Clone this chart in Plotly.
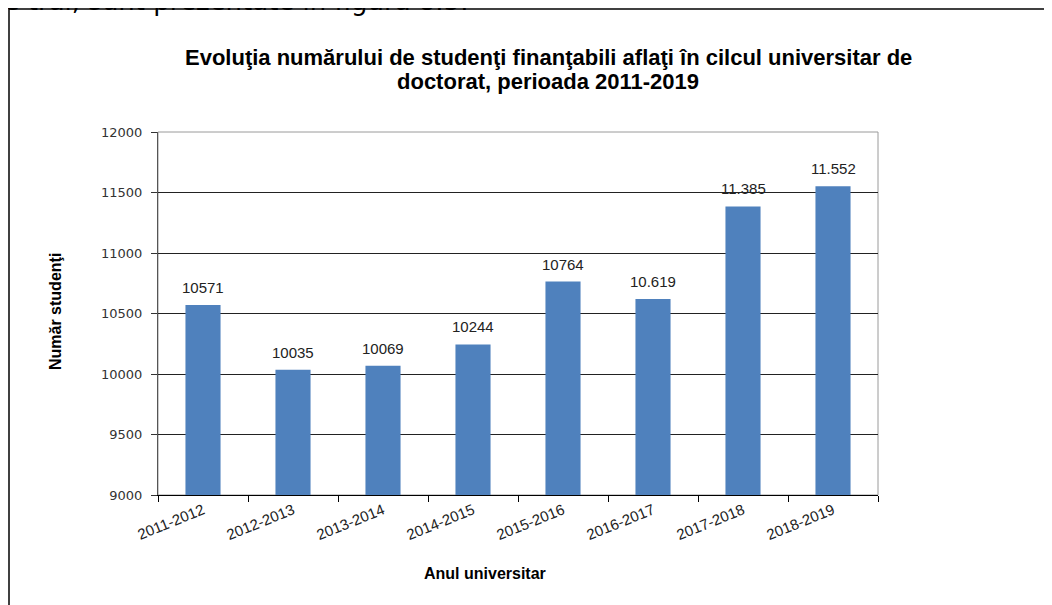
import plotly.graph_objects as go

years = ["2011-2012", "2012-2013", "2013-2014", "2014-2015",
         "2015-2016", "2016-2017", "2017-2018", "2018-2019"]
students = [10571, 10035, 10069, 10244, 10764, 10619, 11385, 11552]
value_labels = ["10571", "10035", "10069", "10244", "10764", "10.619", "11.385", "11.552"]
y_ticks = [9000, 9500, 10000, 10500, 11000, 11500, 12000]
y_tick_text = ["9000", "9500", "10000", "10500", "11000", "11500", "12000"]
title_lines = ["Evoluţia numărului de studenţi finanţabili aflaţi în cilcul universitar de",
               "doctorat, perioada 2011-2019"]

W, H = 1052, 605
OFF = 8  # page body margin
# plot area in screen pixels
SL, SR, ST, SB = 158, 878, 132, 495
L, R, T, B = SL - OFF, SR - OFF, ST - OFF, SB - OFF


def px(x):
    """screen x pixel -> paper coordinate"""
    return (x - SL) / (SR - SL)


def py(y):
    """screen y pixel -> paper coordinate"""
    return (SB - y) / (SB - ST)


fig = go.Figure()
fig.add_trace(go.Bar(
    x=years, y=students, width=0.39,
    marker=dict(color="#4F81BD", line=dict(width=0)),
    hoverinfo="x+y",
))

annotations = []
for cat, val, lab in zip(years, students, value_labels):
    annotations.append(dict(
        x=cat, y=val, xref="x", yref="y", text=lab, showarrow=False,
        yanchor="bottom", yshift=7,
        font=dict(family="Liberation Sans, Arial", size=15, color="#222222"),
    ))

for line, ypix in zip(title_lines, [57, 81]):
    annotations.append(dict(
        x=px(548), y=py(ypix), xref="paper", yref="paper", showarrow=False,
        xanchor="center", yanchor="middle", text="<b>" + line + "</b>",
        font=dict(family="Liberation Sans, Arial", size=22, color="#000000")))

annotations += [
    dict(x=px(55), y=py(312), xref="paper", yref="paper", showarrow=False,
         textangle=-90, xanchor="center", yanchor="middle",
         text="<b>Număr studenţi</b>",
         font=dict(family="Liberation Sans, Arial", size=16, color="#000000")),
    dict(x=px(485), y=py(573), xref="paper", yref="paper", showarrow=False,
         xanchor="center", yanchor="middle",
         text="<b>Anul universitar</b>",
         font=dict(family="Liberation Sans, Arial", size=16, color="#000000")),
    dict(x=px(470), y=py(18.5), xref="paper", yref="paper", showarrow=False,
         xanchor="right", yanchor="bottom",
         text="de trai, sunt prezentate în figura 8.5.",
         font=dict(family="DejaVu Sans", size=26, color="#000000")),
]

shapes = [
    # plot-area border (gray)
    dict(type="rect", xref="paper", yref="paper", x0=0, x1=1, y0=0, y1=1,
         line=dict(color="#9a9a9a", width=1), layer="below"),
    # outer frame
    dict(type="line", xref="paper", yref="paper", x0=px(9), x1=px(1070),
         y0=py(9), y1=py(9), line=dict(color="#000000", width=1.5)),
    dict(type="line", xref="paper", yref="paper", x0=px(9), x1=px(9),
         y0=py(9), y1=py(630), line=dict(color="#000000", width=1.5)),
]

fig.update_layout(
    width=W, height=H,
    margin=dict(l=L, r=W - R, t=T, b=H - B, pad=0),
    paper_bgcolor="white", plot_bgcolor="white",
    showlegend=False,
    annotations=annotations,
    shapes=shapes,
    font=dict(family="Liberation Sans, Arial", color="#222222"),
    xaxis=dict(
        type="category", tickson="boundaries", ticks="outside", ticklen=6,
        tickcolor="#000000", showline=True, linecolor="#000000", linewidth=1,
        showgrid=False, tickangle=-22,
        tickfont=dict(family="Liberation Sans, Arial", size=15, color="#222222"),
    ),
    yaxis=dict(
        range=[9000, 12000], tickvals=y_ticks, ticktext=y_tick_text,
        ticks="outside", ticklen=6,
        tickcolor="#333333", showline=True, linecolor="#555555", linewidth=1,
        showgrid=True, gridcolor="#222222", gridwidth=1, zeroline=False,
        tickfont=dict(family="DejaVu Sans", size=13, color="#333333"),
        ticklabelstandoff=6,
    ),
)

fig.write_html("out.html")
